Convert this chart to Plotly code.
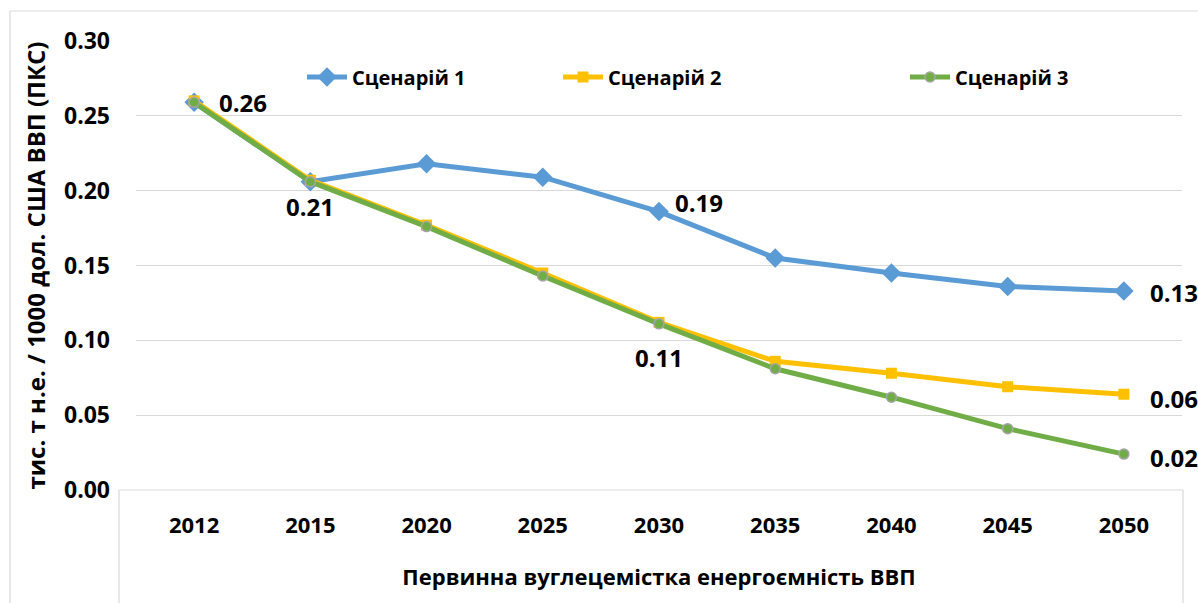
import plotly.graph_objects as go

years = ["2012", "2015", "2020", "2025", "2030", "2035", "2040", "2045", "2050"]
scenario1 = [0.259, 0.206, 0.218, 0.209, 0.186, 0.155, 0.145, 0.136, 0.133]
scenario2 = [0.260, 0.207, 0.177, 0.145, 0.112, 0.086, 0.078, 0.069, 0.064]
scenario3 = [0.259, 0.206, 0.176, 0.143, 0.111, 0.081, 0.062, 0.041, 0.024]
names = ["Сценарій 1", "Сценарій 2", "Сценарій 3"]
y_ticks = [0.0, 0.05, 0.10, 0.15, 0.20, 0.25, 0.30]

FONT = "Open Sans"
BLUE = "#5B9BD5"
GOLD = "#FFC000"
GREEN = "#70AD47"
GRID = "#D9D9D9"

W, H = 1198, 603
L, R, T, B = 136, 16, 41, 113
PW, PH = W - L - R, H - T - B


def px(sx):  # pixel x -> paper
    return (sx - L) / PW


def py(sy):  # pixel y -> paper
    return (H - B - sy) / PH


fig = go.Figure()
fig.add_trace(go.Scatter(
    x=years, y=scenario1, name=names[0], mode="lines+markers",
    line=dict(color=BLUE, width=5),
    marker=dict(symbol="diamond", size=15, color=BLUE),
    legend="legend",
))
fig.add_trace(go.Scatter(
    x=years, y=scenario2, name=names[1], mode="lines+markers",
    line=dict(color=GOLD, width=5),
    marker=dict(symbol="square", size=11, color=GOLD),
    legend="legend2",
))
fig.add_trace(go.Scatter(
    x=years, y=scenario3, name=names[2], mode="lines+markers",
    line=dict(color=GREEN, width=5),
    marker=dict(symbol="circle", size=10, color=GREEN,
                line=dict(color="#A5A5A5", width=1.5)),
    legend="legend3",
))

# data labels: (series values, index, xshift, yshift, xanchor)
labels = [
    (scenario1, 0, 23, 0, "left"),
    (scenario1, 1, 0, -25, "center"),
    (scenario1, 4, 14, 9, "left"),
    (scenario3, 4, 0, -34, "center"),
    (scenario1, 8, 24, -2, "left"),
    (scenario2, 8, 24, -4, "left"),
    (scenario3, 8, 24, -3, "left"),
]
for vals, i, xs, ys, xa in labels:
    fig.add_annotation(
        x=i, y=vals[i], xref="x", yref="y", text=f"{vals[i]:.2f}", showarrow=False,
        xshift=xs, yshift=ys, xanchor=xa, yanchor="middle",
        font=dict(family=FONT, size=24, color="black", weight="bold"),
    )

lc = dict(color=GRID, width=1.2)
# zero line extended + box lines below plot area
fig.add_shape(type="line", xref="paper", yref="paper", x0=px(119), x1=px(1183),
              y0=0, y1=0, line=lc)
fig.add_shape(type="line", xref="paper", yref="paper", x0=px(119), x1=px(119),
              y0=0, y1=py(610), line=lc)
fig.add_shape(type="line", xref="paper", yref="paper", x0=px(1183), x1=px(1183),
              y0=0, y1=py(610), line=lc)
# outer chart border (top & left visible)
fig.add_shape(type="line", xref="paper", yref="paper", x0=px(10), x1=px(1210),
              y0=py(11), y1=py(11), line=lc)
fig.add_shape(type="line", xref="paper", yref="paper", x0=px(10), x1=px(10),
              y0=py(11), y1=py(610), line=lc)

legend_common = dict(
    orientation="h", yanchor="middle", xanchor="left", y=py(77),
    bgcolor="rgba(0,0,0,0)", font=dict(family=FONT, size=20, color="black", weight="bold"),
    itemwidth=40, visible=True,
)
fig.update_layout(
    width=W, height=H,
    margin=dict(l=L, r=R, t=T, b=B, autoexpand=False),
    paper_bgcolor="white", plot_bgcolor="white",
    font=dict(family=FONT, color="black"),
    showlegend=True,
    legend=dict(**legend_common, x=px(302)),
    legend2=dict(**legend_common, x=px(558)),
    legend3=dict(**legend_common, x=px(905)),
    xaxis=dict(
        type="category", range=[-0.5, 8.5], showgrid=False, showline=False,
        zeroline=False, ticks="", ticklabelstandoff=20,
        tickfont=dict(family=FONT, size=22, color="black", weight="bold"),
        title=dict(text="Первинна вуглецемістка енергоємність ВВП", standoff=31,
                   font=dict(family=FONT, size=22, color="black", weight="bold")),
    ),
    yaxis=dict(
        range=[0, 0.30], tickvals=y_ticks, tickformat=".2f",
        showgrid=True, gridcolor=GRID, gridwidth=1.2, zeroline=False, showline=False,
        ticks="", ticklabelstandoff=25,
        tickfont=dict(family=FONT, size=23, color="black", weight="bold"),
        title=dict(text="тис. т н.е. / 1000 дол. США ВВП (ПКС)", standoff=11,
                   font=dict(family=FONT, size=24, color="black", weight="bold")),
    ),
)

fig.write_html(
    "out.html",
    config={"displayModeBar": False},
    post_script="document.body.style.margin='0';document.documentElement.style.overflow='hidden';",
)
